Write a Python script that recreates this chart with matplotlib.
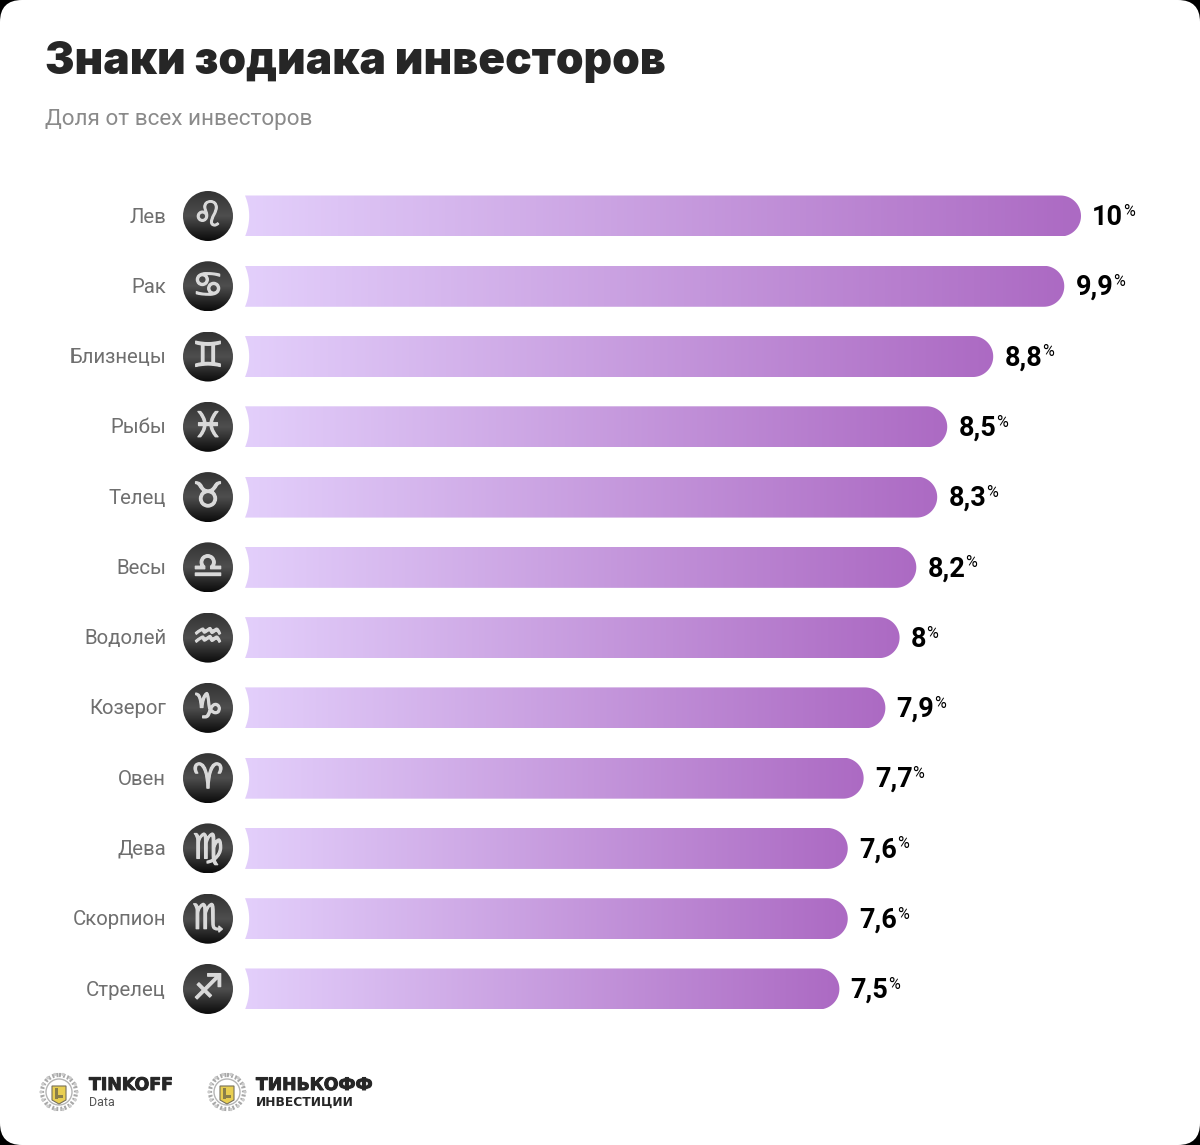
#%%
import numpy as np
import matplotlib.pyplot as plt
import matplotlib.patheffects as pe
from matplotlib.colors import LinearSegmentedColormap
from matplotlib.patches import Circle, Ellipse, FancyBboxPatch, PathPatch, Polygon, Rectangle
from matplotlib.path import Path

signs = ['Лев', 'Рак', 'Близнецы', 'Рыбы', 'Телец', 'Весы', 'Водолей', 'Козерог', 'Овен', 'Дева', 'Скорпион', 'Стрелец']
glyphs = ['\u264c', '\u264b', '\u264a', '\u2653', '\u2649', '\u264e', '\u2652', '\u2651', '\u2648', '\u264d', '\u264f', '\u2650']
value_labels = ['10', '9,9', '8,8', '8,5', '8,3', '8,2', '8', '7,9', '7,7', '7,6', '7,6', '7,5']
bar_lengths = [10.0, 9.8, 8.95, 8.4, 8.28, 8.03, 7.83, 7.66, 7.4, 7.21, 7.21, 7.11] # they are not exactly the labels

bar_cmap = LinearSegmentedColormap.from_list('bar', ['#e3cffb', '#ac6ac3'])
icon_cmap = LinearSegmentedColormap.from_list('icon', ['#333333', '#4e4e4e', '#0a0a0a'])

def bar_path(length, half_h, rx):
    # Rounded on the right, hollowed on the left where the icon sits
    t = np.linspace(np.pi / 2, -np.pi / 2, 40)
    right = np.column_stack([length - rx + rx * np.cos(t), half_h * np.sin(t)])
    s = np.linspace(1, -1, 20)
    left = np.column_stack([0.05 * (1 - s ** 2), -half_h * s])
    return np.vstack([right, left])

def draw_emblem(bg, cx, cy):
    # Crest of the logo, only roughly
    teeth = np.linspace(0, 2 * np.pi, 15)[:-1]
    bg.add_patch(Circle((cx, cy), 17, fc='none', ec='#a8a8a8', lw=3, ls=(0, (0.5, 0.5))))
    bg.add_patch(Circle((cx, cy), 13, fc='white', ec='#b5b5b5', lw=1))
    for a in teeth:
        bg.add_patch(Circle((cx + 18 * np.cos(a), cy + 18 * np.sin(a)), 1.6, fc='#cccccc', ec='none'))
    bg.add_patch(Polygon([(cx - 7, cy - 6), (cx + 7, cy - 6), (cx + 7, cy + 8), (cx, cy + 12), (cx - 7, cy + 8)],
                         fc='#e9cf52', ec='#77705a', lw=0.8))
    bg.add_patch(Rectangle((cx - 4, cy - 4), 2.5, 11, fc='#8a7f4a', ec='none'))
    bg.add_patch(Rectangle((cx - 3, cy + 3), 7, 2.5, fc='#8a7f4a', ec='none'))

plt.rcParams['font.family'] = 'Roboto'

fig = plt.figure(figsize=(12, 11.45), dpi=100, facecolor='black')
bg = fig.add_axes([0, 0, 1, 1]) # pixel layer for the card, titles and logos
bg.set_xlim(0, 1200)
bg.set_ylim(1145, 0)
bg.axis('off')
bg.add_patch(FancyBboxPatch((22, 22), 1156, 1101, boxstyle='round,pad=22,rounding_size=22', fc='white', ec='none'))

bg.text(45, 62, 'Знаки зодиака инвесторов', fontsize=31.8, family='Inter', weight='black', color='#262626', va='center')
bg.text(45, 119, 'Доля от всех инвесторов', fontsize=16.2, color='#8a8a8a', va='center')

# Logos
heavy = [pe.withStroke(linewidth=0.7, foreground='#262626')]
draw_emblem(bg, 59, 1092)
bg.text(89, 1085, 'TINKOFF', fontsize=12.5, family='DejaVu Sans', weight='bold', color='#262626', va='center', path_effects=heavy)
bg.text(89, 1102, 'Data', fontsize=9, color='#555555', va='center')
draw_emblem(bg, 227, 1092)
bg.text(256, 1085, 'ТИНЬКОФФ', fontsize=12.4, family='DejaVu Sans', weight='bold', color='#262626', va='center', path_effects=heavy)
bg.text(256, 1102, 'ИНВЕСТИЦИИ', fontsize=8.8, family='DejaVu Sans', weight='bold', color='#262626', va='center')

#%%
x_px = 83.6 # one unit of share on the screen
y_px = 70.27 # one row on the screen
ax = fig.add_axes([0, 0, 1, 1])
ax.patch.set_alpha(0)
ax.axis('off')

half_h = 20.5 / y_px
rx = 20.5 / x_px
gradient = np.linspace(0, 1, 256).reshape(1, -1)
shade = np.linspace(0, 1, 256).reshape(-1, 1)
icon_x = -37 / x_px
icon_w = 50 / x_px
icon_h = 50 / y_px
thick = [pe.withStroke(linewidth=0.9, foreground='#d9d9d9')]

for i, length in enumerate(bar_lengths):
    im = ax.imshow(gradient, extent=[0, length, i + half_h, i - half_h], cmap=bar_cmap, aspect='auto', interpolation='bilinear')
    clip = PathPatch(Path(bar_path(length, half_h, rx) + [0, i], closed=False), fc='none', ec='none', transform=ax.transData)
    ax.add_patch(clip)
    im.set_clip_path(clip)

    icon = ax.imshow(shade, extent=[icon_x - icon_w / 2, icon_x + icon_w / 2, i + icon_h / 2, i - icon_h / 2],
                     cmap=icon_cmap, aspect='auto', interpolation='bilinear')
    disc = Ellipse((icon_x, i), icon_w, icon_h, fc='none', ec='none', transform=ax.transData)
    ax.add_patch(disc)
    icon.set_clip_path(disc)
    ax.text(icon_x, i, glyphs[i], family='DejaVu Sans', fontsize=25, color='#d9d9d9', ha='center', va='center', path_effects=thick)

    ax.text(-79 / x_px, i + 0.015, signs[i], fontsize=14.7, color='#6f6f6f', ha='right', va='center')

    val = ax.annotate(value_labels[i], xy=(length, i), xytext=(8, -1), textcoords='offset points', fontsize=19.5,
                      weight='bold', color='black', ha='left', va='center')
    ax.annotate('%', xy=(1, 1), xycoords=val, xytext=(0, 0), textcoords='offset points', fontsize=11.5,
                color='black', ha='left', va='top')

ax.set_xlim(-245 / x_px, 955 / x_px)
ax.set_ylim(929 / y_px, -216 / y_px)

plt.savefig('out.png', dpi=100, facecolor='black')
